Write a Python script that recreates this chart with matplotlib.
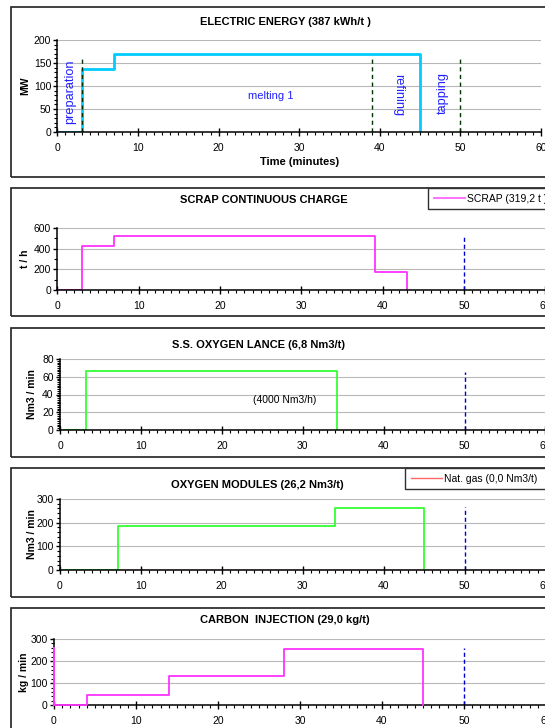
import matplotlib
matplotlib.use("Agg")
import matplotlib.pyplot as plt
from matplotlib.patches import Rectangle
from matplotlib.ticker import MultipleLocator

plt.rcParams["font.family"] = ["Liberation Sans", "DejaVu Sans"]

W, H = 545, 728

# electric energy (MW)
energy_t = [0, 3, 3, 7, 7, 45, 45, 45]
energy_mw = [0, 0, 137, 137, 170, 170, 135, 0]
phase_t = [3, 39, 50]
phase_top = 162
phase_names = ["preparation", "melting 1", "refining", "tapping"]
phase_label_t = [1.6, 26.5, 42.3, 47.8]
phase_label_y = [88, 78, 80, 84]
phase_label_rot = [90, 0, 270, 90]
phase_label_size = [9.2, 8, 9.2, 9.2]

# scrap continuous charge (t/h)
scrap_t = [0, 3, 3, 7, 7, 39, 39, 43, 43]
scrap_rate = [0, 0, 430, 430, 520, 520, 175, 175, 0]

# s.s. oxygen lance (Nm3/min)
lance_t = [0, 3.2, 3.2, 34.2, 34.2]
lance_rate = [0, 0, 67, 67, 0]

# oxygen modules (Nm3/min)
modules_t = [0, 7.2, 7.2, 34, 34, 45, 45]
modules_rate = [0, 0, 187, 187, 262, 262, 0]
natgas_t = [0, 60]
natgas_rate = [0, 0]

# carbon injection (kg/min)
carbon_t = [0, 0, 0, 4, 4, 14, 14, 28, 28, 45, 45]
carbon_rate = [0, 260, 0, 0, 47, 47, 134, 134, 257, 257, 0]

tap_end = 50
tap_line_top = [530, 65, 267, 260]

fig = plt.figure(figsize=(W / 100, H / 100), dpi=100)


def px_rect(l, t, r, b):
    return [l / W, 1 - b / H, (r - l) / W, (b - t) / H]


def frame(t, b):
    fig.add_artist(Rectangle((11 / W, 1 - b / H), 560 / W, (b - t) / H,
                             transform=fig.transFigure, fill=False,
                             ec="#202020", lw=1.2))


def panel(rect, ymax, ystep, yminor, title, title_x, title_y, ylabel, ylabel_x):
    ax = fig.add_axes(px_rect(*rect))
    ax.set_xlim(0, 60)
    ax.set_ylim(0, ymax)
    ax.xaxis.set_major_locator(MultipleLocator(10))
    ax.xaxis.set_minor_locator(MultipleLocator(1))
    ax.yaxis.set_major_locator(MultipleLocator(ystep))
    ax.yaxis.set_minor_locator(MultipleLocator(yminor))
    ax.tick_params(axis="x", which="major", direction="inout", length=6,
                   width=1, labelsize=7.5, pad=5)
    ax.tick_params(axis="x", which="minor", direction="out", length=2.5, width=0.8)
    ax.tick_params(axis="y", which="major", direction="out", length=3,
                   width=1, labelsize=7.5, pad=1.5)
    ax.tick_params(axis="y", which="minor", direction="out", length=2, width=0.8)
    for s in ["top", "right"]:
        ax.spines[s].set_visible(False)
    for s in ["left", "bottom"]:
        ax.spines[s].set_zorder(5)
        ax.spines[s].set_linewidth(1.1)
    ax.grid(axis="y", which="major", color="#b8b8b8", lw=0.8)
    ax.set_axisbelow(True)
    ax.patch.set_alpha(0)
    fig.text(title_x / W, 1 - title_y / H, title, ha="center", va="center",
             fontsize=8, fontweight="bold")
    fig.text(ylabel_x / W, 1 - (rect[1] + rect[3]) / 2 / H, ylabel, rotation=90,
             ha="center", va="center", fontsize=7.5, fontweight="bold")
    return ax


def box_legend(handle, x0, top, bottom):
    leg = fig.legend(handles=[handle], loc="upper left", mode="expand",
                     bbox_to_anchor=(x0 / W, 1 - bottom / H, 200 / W, (bottom - top) / H),
                     fontsize=7.5, fancybox=False, edgecolor="#303030",
                     framealpha=1, handlelength=3, borderpad=0.55,
                     handletextpad=0.2, borderaxespad=0)
    leg.get_frame().set_linewidth(1)
    return leg


# panel 1
frame(7, 177)
ax1 = panel((57.4, 40, 541, 132), 200, 50, 10,
            "ELECTRIC ENERGY (387 kWh/t )", 285, 22, "MW", 25)
ax1.plot(energy_t, energy_mw, color="#00ccff", lw=2, zorder=3)
ax1.vlines(phase_t, 0, phase_top, colors="#003300", linestyles=(0, (3, 2.5)),
           lw=1, zorder=4)
for name, t, y, rot, fs in zip(phase_names, phase_label_t, phase_label_y,
                               phase_label_rot, phase_label_size):
    ax1.text(t, y, name, rotation=rot, ha="center", va="center",
             color="#2020ff", fontsize=fs)
ax1.set_xlabel("Time (minutes)", fontsize=8, fontweight="bold", labelpad=3)

# panel 2
frame(188, 316)
ax2 = panel((57.4, 228, 545.3, 290), 600, 200, 100,
            "SCRAP CONTINUOUS CHARGE", 264, 200, "t / h", 25)
scrap_line, = ax2.plot(scrap_t, scrap_rate, color="#ff33ff", lw=1.3, zorder=3,
                       label="SCRAP (319,2 t )")
ax2.vlines(tap_end, 0, tap_line_top[0], colors="#0000cc",
           linestyles=(0, (3, 2)), lw=1, zorder=4)
leg2 = box_legend(scrap_line, 428, 188, 213)
leg2.legend_handles[0].set_color("#ff66ff")

# panel 3
frame(328, 457)
ax3 = panel((60, 359, 545.4, 430), 80, 20, 2,
            "S.S. OXYGEN LANCE (6,8 Nm3/t)", 259, 345, "Nm3 / min", 32)
ax3.plot(lance_t, lance_rate, color="#33ff33", lw=1.3, zorder=3)
ax3.vlines(tap_end, 0, tap_line_top[1], colors="#0000cc",
           linestyles=(0, (3, 2)), lw=1, zorder=4)
ax3.text(27.8, 34, "(4000 Nm3/h)", ha="center", va="center", fontsize=7.5)

# panel 4
frame(468, 597)
ax4 = panel((59.8, 499, 545.6, 570), 300, 100, 20,
            "OXYGEN MODULES (26,2 Nm3/t)", 257, 485, "Nm3 / min", 32)
ax4.plot(modules_t, modules_rate, color="#33ff33", lw=1.3, zorder=3)
gas_line, = ax4.plot(natgas_t, natgas_rate, color="#ff6666", lw=1, zorder=1,
                     label="Nat. gas (0,0 Nm3/t)")
ax4.vlines(tap_end, 0, tap_line_top[2], colors="#0000cc",
           linestyles=(0, (3, 2)), lw=1, zorder=4)
box_legend(gas_line, 405, 468, 490)

# panel 5
frame(608, 760)
ax5 = panel((53.9, 639, 546, 705.3), 300, 100, 20,
            "CARBON  INJECTION (29,0 kg/t)", 285, 620, "kg / min", 23.6)
ax5.plot(carbon_t, carbon_rate, color="#ff33ff", lw=1.3, zorder=6,
         clip_on=False)
ax5.vlines(tap_end, 0, tap_line_top[3], colors="#0000cc",
           linestyles=(0, (3, 2)), lw=1, zorder=4)

fig.savefig("out.png", dpi=100)
